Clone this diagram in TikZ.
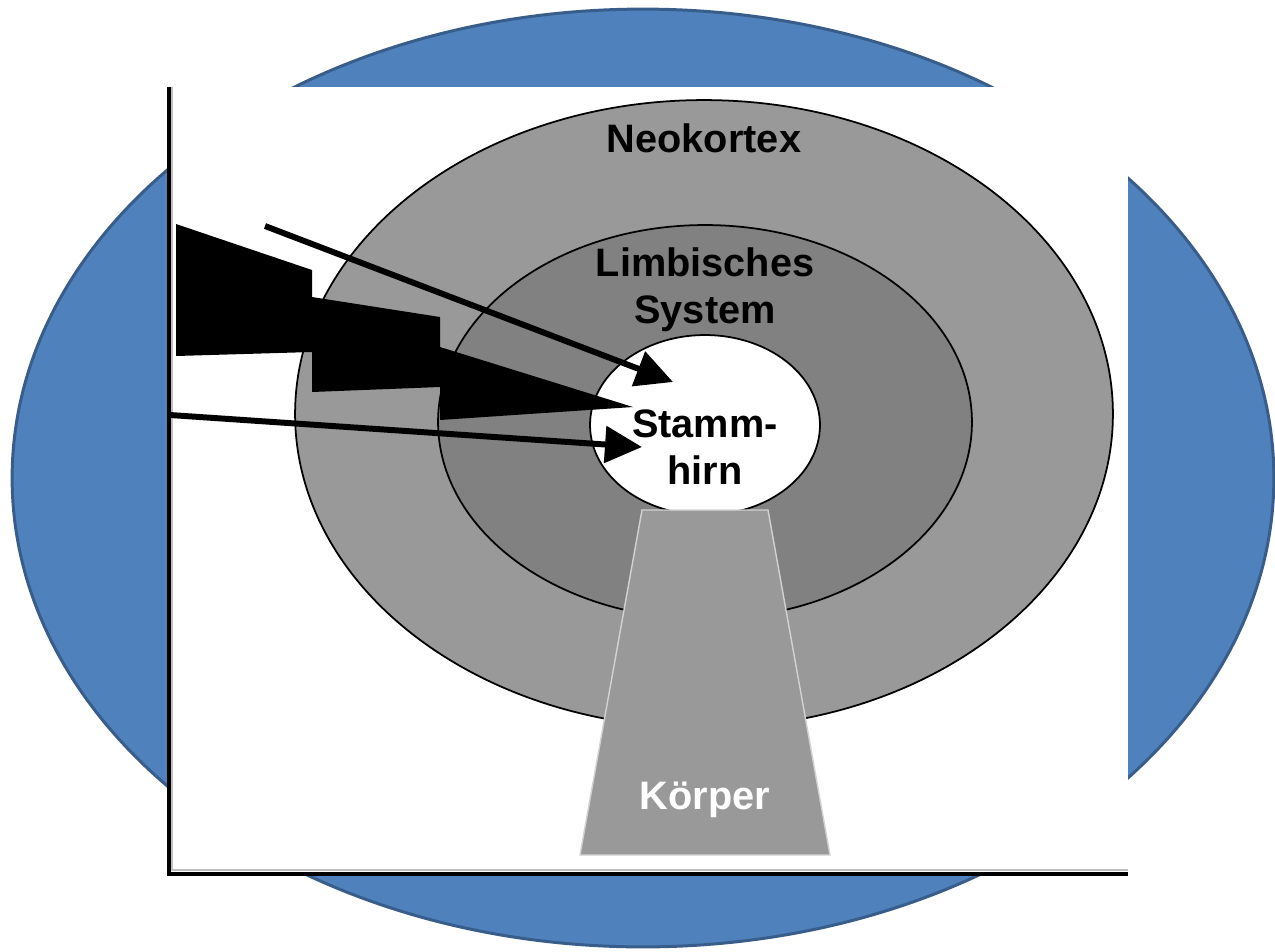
\documentclass[tikz,border=0pt]{standalone}
\usepackage{fontspec}
\setsansfont{Liberation Sans}
\usetikzlibrary{arrows.meta,shapes.geometric}
\definecolor{bgblue}{HTML}{4F81BD}
\definecolor{bgedge}{HTML}{385D8A}
\definecolor{ringouter}{HTML}{999999}
\definecolor{ringinner}{HTML}{818181}
\begin{document}
\begin{tikzpicture}[x=0.02cm, y=-0.02cm,
  ring/.style={draw=black, line width=1pt},
  layer/.style={font=\fontsize{22.6}{27}\selectfont\bfseries\sffamily, align=center},
  impulse/.style={line width=3.4pt, -{Triangle[length=0.74cm, width=0.72cm]}},
]
  \useasboundingbox (0,0) rectangle (1275,951);

  % blue background
  \draw[fill=bgblue, draw=bgedge, line width=1.7pt]
    (643,478) ellipse [x radius=12.62cm, y radius=9.38cm];

  % white sheet with frame
  \fill[white] (168,87) rectangle (1128,873);
  \draw[gray!50, line width=0.8pt] (172,87) -- (172,870) -- (1128,870);
  \draw[line width=1.8pt] (169,87) -- (169,874) -- (1128,874);

  % rings
  \draw[ring, fill=ringouter] (704,414) ellipse [x radius=8.18cm, y radius=6.28cm];
  \draw[ring, fill=ringinner] (705,422) ellipse [x radius=5.34cm, y radius=3.94cm];
  \node[ellipse, ring, fill=white, minimum width=4.6cm, minimum height=3.6cm,
        inner sep=0pt] (stem) at (705,425) {};

  % body
  \draw[fill=ringouter, draw=gray!35, line width=0.8pt]
    (642,510) -- (768,510) -- (830,855) -- (580,855) -- cycle;

  % incoming stimuli
  \fill[black] (176,224) -- (312,270) -- (312,297) -- (440,317) -- (440,347)
    -- (633,407) -- (440,420) -- (440,387) -- (312,392) -- (312,352)
    -- (176,356) -- cycle;
  \coordinate (src1) at (265,226);
  \coordinate (tip1) at (673,382);
  \coordinate (src2) at (170,415);
  \coordinate (tip2) at (642,447);
  \draw[impulse] (src1) -- (tip1);
  \draw[impulse] (src2) -- (tip2);

  % labels
  \node[layer] (neo) at (704,138) {Neokortex};
  \node[layer] (limb) at (705,290) {Limbisches\\System};
  \node[layer] (stamm) at (705,447) {Stamm-\\hirn};
  \node[layer, text=white] (koerper) at (705,800) {Körper};

\end{tikzpicture}
\end{document}
